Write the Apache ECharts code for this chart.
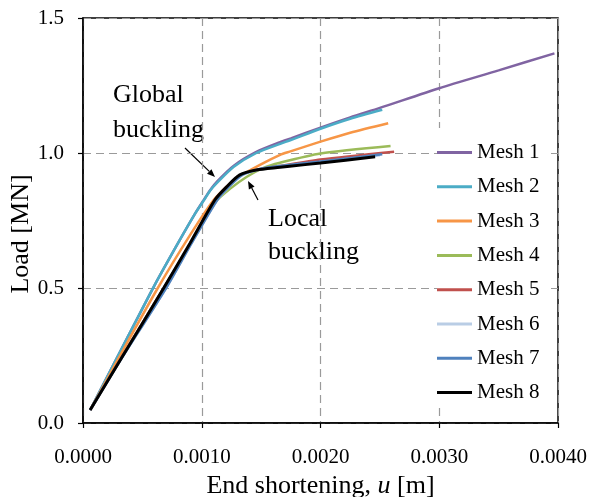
<!DOCTYPE html>
<html>
<head>
<meta charset="utf-8">
<script src="https://cdn.jsdelivr.net/npm/echarts@6.0.0/dist/echarts.min.js"></script>
<style>
  html, body { margin: 0; padding: 0; background: #fff; }
  #chart { width: 590px; height: 497px; }
</style>
</head>
<body>
<div id="chart"></div>
<script>
// end shortening u [m] and load [MN] per mesh
var meshNames = ['Mesh 1', 'Mesh 2', 'Mesh 3', 'Mesh 4', 'Mesh 5', 'Mesh 6', 'Mesh 7', 'Mesh 8'];
var meshColors = ['#8064A2', '#4BACC6', '#F79646', '#9BBB59', '#C0504D', '#B9CDE5', '#4F81BD', '#000000'];

var u1 = [0.00006, 0.0003, 0.0006, 0.0008, 0.00095, 0.00102, 0.00107, 0.00113, 0.00127, 0.00146, 0.00166, 0.00175, 0.002, 0.00225, 0.0025, 0.003, 0.0035, 0.00397];
var load1 = [0.048, 0.253, 0.508, 0.666, 0.78, 0.828, 0.862, 0.895, 0.953, 1.004, 1.04, 1.054, 1.094, 1.132, 1.167, 1.24, 1.306, 1.369];

var u2 = [0.00006, 0.0003, 0.0006, 0.0008, 0.00095, 0.00102, 0.00107, 0.00113, 0.00127, 0.00146, 0.00166, 0.00175, 0.002, 0.00225, 0.00252];
var load2 = [0.048, 0.253, 0.508, 0.666, 0.78, 0.826, 0.86, 0.89, 0.949, 1.0, 1.034, 1.048, 1.09, 1.127, 1.16];

var u3 = [0.00006, 0.0003, 0.00063, 0.0009, 0.0011, 0.00122, 0.00129, 0.00149, 0.00166, 0.00174, 0.002, 0.00225, 0.00257];
var load3 = [0.048, 0.24, 0.5, 0.695, 0.826, 0.88, 0.906, 0.956, 0.993, 1.005, 1.042, 1.075, 1.11];

var u4 = [0.00006, 0.0003, 0.00068, 0.0009, 0.00112, 0.00124, 0.00138, 0.00152, 0.00166, 0.002, 0.00259];
var load4 = [0.048, 0.225, 0.5, 0.66, 0.82, 0.868, 0.912, 0.945, 0.964, 0.998, 1.026];

var u5 = [0.00006, 0.0003, 0.00068, 0.0009, 0.00111, 0.00121, 0.00132, 0.00146, 0.00166, 0.002, 0.00262];
var load5 = [0.048, 0.225, 0.5, 0.662, 0.826, 0.875, 0.917, 0.937, 0.952, 0.976, 1.005];

var u6 = [0.00006, 0.0003, 0.0007, 0.0009, 0.00113, 0.00123, 0.00134, 0.00148, 0.00166, 0.002, 0.0025];
var load6 = [0.048, 0.222, 0.5, 0.655, 0.826, 0.875, 0.918, 0.938, 0.95, 0.967, 0.992];

var u7 = [0.00006, 0.0003, 0.0007, 0.0009, 0.00113, 0.00123, 0.00134, 0.00148, 0.00166, 0.002, 0.00252];
var load7 = [0.048, 0.222, 0.5, 0.655, 0.826, 0.876, 0.919, 0.94, 0.952, 0.969, 0.995];

var u8 = [0.00006, 0.0003, 0.00068, 0.0009, 0.00111, 0.00121, 0.00132, 0.00146, 0.00166, 0.00174, 0.002, 0.00246];
var load8 = [0.048, 0.223, 0.5, 0.665, 0.826, 0.875, 0.919, 0.937, 0.947, 0.951, 0.963, 0.986];

var xTicks = [0, 0.001, 0.002, 0.003, 0.004];
var yTicks = [0, 0.5, 1.0, 1.5];

var meshU = [u1, u2, u3, u4, u5, u6, u7, u8];
var meshLoad = [load1, load2, load3, load4, load5, load6, load7, load8];

var font = "'Liberation Serif', 'Times New Roman', serif";

function zip(xs, ys) {
	var out = [];
	for (var i = 0; i < xs.length; i++) out.push([xs[i], ys[i]]);
	return out;
}

// small arrow: line plus filled head, in pixel coords
function arrow(x1, y1, x2, y2) {
	var a = Math.atan2(y2 - y1, x2 - x1);
	var len = 8, half = 3.2;
	var bx = x2 - len * Math.cos(a), by = y2 - len * Math.sin(a);
	return {
		type: 'group',
		children: [
			{ type: 'line', shape: { x1: x1, y1: y1, x2: bx, y2: by }, style: { stroke: '#000', lineWidth: 1.2 } },
			{ type: 'polygon', shape: { points: [
				[x2, y2],
				[bx + half * Math.sin(a), by - half * Math.cos(a)],
				[bx - half * Math.sin(a), by + half * Math.cos(a)]
			] }, style: { fill: '#000' } }
		]
	};
}

var series = meshNames.map(function (name, i) {
	return {
		name: name,
		type: 'line',
		data: zip(meshU[i], meshLoad[i]),
		showSymbol: false,
		symbol: 'none',
		smooth: 0.25,
		lineStyle: { color: meshColors[i], width: i === 7 ? 3 : 2.5 },
		itemStyle: { color: meshColors[i] },
		z: 2 + i
	};
});

var chart = echarts.init(document.getElementById('chart'));
chart.setOption({
	animation: false,
	textStyle: { fontFamily: font },
	grid: {
		left: 83, right: 32, top: 18, bottom: 74,
		outerBoundsMode: 'none',
		show: true, borderColor: '#000', borderWidth: 1.5
	},
	xAxis: {
		type: 'value',
		min: xTicks[0], max: xTicks[xTicks.length - 1], interval: 0.001,
		name: 'End shortening, {i|u} [m]',
		nameLocation: 'middle',
		nameGap: 47,
		nameTextStyle: {
			fontFamily: font, fontSize: 26, color: '#000',
			rich: { i: { fontFamily: font, fontSize: 26, fontStyle: 'italic', color: '#000' } }
		},
		axisLine: { lineStyle: { color: '#000', width: 1.5 } },
		axisTick: { show: true, inside: false, length: 5, lineStyle: { color: '#000', width: 1.2 } },
		axisLabel: {
			fontFamily: font, fontSize: 21, color: '#000', margin: 24,
			formatter: function (v) { return v.toFixed(4); }
		},
		splitLine: { show: true, lineStyle: { color: '#9a9a9a', width: 1.2, type: [8, 5] } }
	},
	yAxis: {
		type: 'value',
		min: yTicks[0], max: yTicks[yTicks.length - 1], interval: 0.5,
		axisLine: { show: true, lineStyle: { color: '#000', width: 1.5 } },
		axisTick: { show: true, inside: false, length: 5, lineStyle: { color: '#000', width: 1.2 } },
		axisLabel: {
			fontFamily: font, fontSize: 21, color: '#000', margin: 19,
			formatter: function (v) { return v.toFixed(1); }
		},
		splitLine: { show: true, lineStyle: { color: '#9a9a9a', width: 1.2, type: [8, 5] } }
	},
	legend: {
		orient: 'vertical',
		left: 437, top: 128,
		padding: [14, 10, 0, 0],
		backgroundColor: '#fff',
		icon: 'rect',
		itemWidth: 35, itemHeight: 3,
		itemGap: 13.3,
		data: meshNames,
		textStyle: { fontFamily: font, fontSize: 21, color: '#000', lineHeight: 21 }
	},
	graphic: [
		{
			type: 'text', x: 21, y: 234, rotation: Math.PI / 2,
			style: { text: 'Load [MN]', font: '26px ' + font, fill: '#000', align: 'center', verticalAlign: 'middle' }
		},
		{
			type: 'text', x: 113, y: 112.5,
			style: { text: 'Global\nbuckling', font: '26px ' + font, fill: '#000', align: 'left', verticalAlign: 'middle', lineHeight: 35 }
		},
		{
			type: 'text', x: 268, y: 235.5,
			style: { text: 'Local\nbuckling', font: '26px ' + font, fill: '#000', align: 'left', verticalAlign: 'middle', lineHeight: 33 }
		},
		arrow(185, 148, 215, 177),
		arrow(258, 200, 248, 181)
	],
	series: series
});
</script>
</body>
</html>
